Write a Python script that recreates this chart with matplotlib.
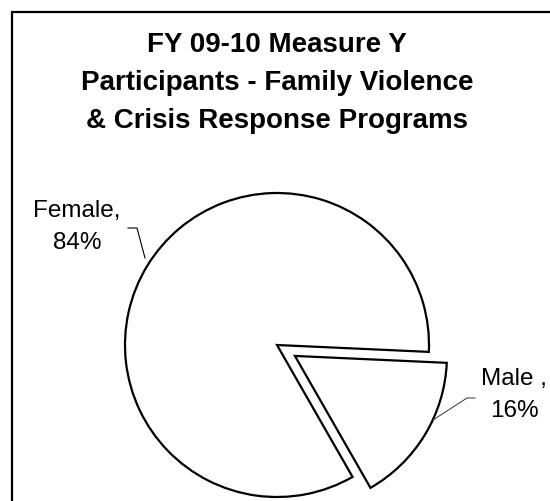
import matplotlib.pyplot as plt

# Datos del grafico
categorias = ['Female', 'Male']
porcentajes = [84, 16]
etiquetas = ['Female,', 'Male ,']
titulo = 'FY 09-10 Measure Y\nParticipants - Family Violence\n& Crisis Response Programs'

plt.rcParams['font.family'] = ['Liberation Sans', 'DejaVu Sans']

fig = plt.figure(figsize=(5.5, 5.01), dpi=100)
# ejes en coordenadas de pixel (y hacia arriba)
ax = fig.add_axes([0, 0, 1, 1])

# marco (solo borde izquierdo y superior son visibles)
ax.plot([12, 12, 552], [-5, 489, 489], color='black', lw=1.6, solid_joinstyle='miter')

# titulo
ax.text(277, 418, titulo, ha='center', va='center', fontsize=20,
        fontweight='bold', linespacing=1.6)

# pastel con la porcion Male separada (explode en unidades de datos)
ax.pie(porcentajes, explode=[0, 21], center=(277, 156), radius=152,
       startangle=-2.6, counterclock=True, colors=['white', 'white'],
       wedgeprops=dict(edgecolor='black', linewidth=1.6), frame=True)
ax.set_xlim(0, 550)
ax.set_ylim(0, 501)
ax.set_aspect('equal')
ax.axis('off')

# etiquetas
ax.text(77, 274, f'{etiquetas[0]}\n{porcentajes[0]}%', ha='center', va='center',
        fontsize=17.5, linespacing=1.6)
ax.text(514, 106, f'{etiquetas[1]}\n{porcentajes[1]}%', ha='center', va='center',
        fontsize=17.5, linespacing=1.55)

# lineas guia
ax.plot([128, 137, 145], [273, 273, 243], color='black', lw=0.8)
ax.plot([475, 467, 433], [103, 103, 81], color='#333333', lw=0.7)

fig.savefig('out.png', dpi=100, facecolor='white')
